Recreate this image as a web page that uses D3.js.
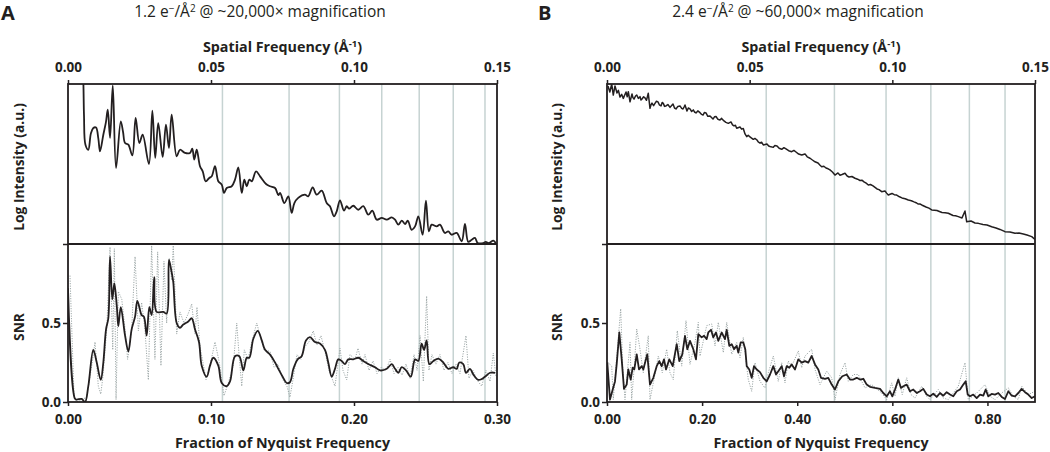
<!DOCTYPE html>
<html><head><meta charset="utf-8">
<script src="https://cdn.jsdelivr.net/npm/d3@7"></script>
<style>
body{margin:0;background:#fff}
svg{display:block}
text{font-family:'Open Sans','Noto Sans',sans-serif;fill:#231f20}
</style>
</head><body>
<svg id="chart" width="1050" height="452"></svg>
<script>
// ---------- tick labels / axes ----------
const spatialTicks = [0, 0.05, 0.10, 0.15];
const nyquistTicksA = [0, 0.10, 0.20, 0.30];
const nyquistTicksB = [0, 0.20, 0.40, 0.60, 0.80];
const snrTicks = [0, 0.5, 1.0];
const panelLetters = ["A", "B"];
const doseText = ["1.2", "2.4"];
const magText = ["~20,000", "~60,000"];

// CTF-zero grid lines, in spatial frequency (1/Å)
const gridA = [0.0540, 0.0773, 0.0949, 0.1097, 0.1228, 0.1347, 0.1458];
const gridB = [0.0558, 0.0797, 0.0978, 0.1135, 0.1270, 0.1395];

// ---------- Panel A data: [fraction of Nyquist, value] ----------
const intensityA = [[0.0100,11.2],[0.0107,10.2],[0.0112,8.0],[0.0122,6.2],[0.0142,5.89],[0.0160,6.9],[0.0177,7.25],[0.0196,7.28],[0.0212,6.6],[0.0224,5.79],[0.0247,6.83],[0.0265,7.6],[0.0278,8.39],[0.0294,6.63],[0.0313,9.92],[0.0336,4.75],[0.0369,7.67],[0.0385,7.0],[0.0399,6.31],[0.0422,6.21],[0.0450,5.54],[0.0473,7.88],[0.0499,6.31],[0.0522,6.83],[0.0566,5.0],[0.0590,8.33],[0.0610,5.38],[0.0631,7.56],[0.0662,5.44],[0.0685,7.46],[0.0706,6.0],[0.0725,8.08],[0.0760,5.48],[0.0783,5.89],[0.0818,5.69],[0.0853,5.69],[0.0869,5.96],[0.0883,5.27],[0.0900,5.89],[0.0923,4.86],[0.0942,4.54],[0.0963,3.92],[0.0988,4.13],[0.1005,4.23],[0.1028,4.86],[0.1051,3.92],[0.1075,3.71],[0.1091,3.19],[0.1110,3.5],[0.1145,3.61],[0.1168,4.02],[0.1191,4.79],[0.1215,3.19],[0.1233,4.02],[0.1250,3.61],[0.1268,4.02],[0.1285,3.92],[0.1315,4.54],[0.1343,4.23],[0.1385,3.75],[0.1413,3.61],[0.1448,3.5],[0.1471,3.06],[0.1483,3.19],[0.1513,2.56],[0.1541,2.98],[0.1564,1.94],[0.1583,2.56],[0.1610,2.88],[0.1657,3.08],[0.1680,2.98],[0.1711,3.54],[0.1739,3.08],[0.1774,3.33],[0.1809,2.56],[0.1832,2.36],[0.1860,1.73],[0.1879,2.04],[0.1902,2.73],[0.1930,2.08],[0.1949,2.36],[0.1965,2.21],[0.1995,2.39],[0.2030,2.14],[0.2065,2.36],[0.2100,1.83],[0.2128,2.08],[0.2159,1.52],[0.2194,1.63],[0.2229,1.52],[0.2264,1.67],[0.2287,1.52],[0.2310,1.21],[0.2334,1.46],[0.2357,1.25],[0.2376,1.46],[0.2403,0.89],[0.2427,1.1],[0.2450,1.73],[0.2480,0.58],[0.2503,2.71],[0.2524,0.79],[0.2543,1.21],[0.2578,1.1],[0.2601,1.21],[0.2636,0.69],[0.2659,0.79],[0.2683,0.58],[0.2718,0.69],[0.2753,0.17],[0.2776,1.25],[0.2799,0.13],[0.2823,0.27],[0.2846,0.38],[0.2865,0.06],[0.2904,0.06],[0.2921,0.13],[0.2944,0.06],[0.2974,0.21],[0.2991,0.06]];

const snrSmoothA = [[0.0,0.72],[0.0049,0.02],[0.0061,0.015],[0.0096,0.02],[0.0119,0.0],[0.0142,0.1],[0.0177,0.33],[0.0201,0.25],[0.0229,0.14],[0.0247,0.25],[0.0266,0.46],[0.0282,0.53],[0.0294,0.92],[0.0310,0.65],[0.0324,0.75],[0.0341,0.61],[0.0352,0.48],[0.0369,0.6],[0.0399,0.42],[0.0422,0.32],[0.0445,0.46],[0.0469,0.54],[0.0485,0.64],[0.0515,0.55],[0.0531,0.54],[0.0550,0.42],[0.0569,0.6],[0.0585,0.55],[0.0603,0.79],[0.0620,0.57],[0.0666,0.57],[0.0690,0.56],[0.0706,0.9],[0.0725,0.82],[0.0736,0.76],[0.0760,0.5],[0.0783,0.47],[0.0806,0.49],[0.0841,0.51],[0.0865,0.53],[0.0888,0.46],[0.0916,0.38],[0.0935,0.23],[0.0970,0.16],[0.0993,0.23],[0.1016,0.28],[0.1051,0.23],[0.1075,0.12],[0.1110,0.1],[0.1133,0.13],[0.1168,0.29],[0.1198,0.29],[0.1226,0.2],[0.1250,0.28],[0.1268,0.28],[0.1296,0.4],[0.1327,0.45],[0.1355,0.39],[0.1378,0.33],[0.1413,0.3],[0.1448,0.25],[0.1471,0.21],[0.1501,0.16],[0.1529,0.12],[0.1552,0.125],[0.1576,0.21],[0.1606,0.27],[0.1634,0.29],[0.1664,0.39],[0.1692,0.41],[0.1727,0.38],[0.1762,0.37],[0.1797,0.33],[0.1820,0.25],[0.1844,0.16],[0.1867,0.21],[0.1890,0.27],[0.1914,0.26],[0.1937,0.24],[0.1960,0.27],[0.1995,0.27],[0.2030,0.28],[0.2065,0.26],[0.2100,0.24],[0.2147,0.22],[0.2182,0.2],[0.2229,0.21],[0.2264,0.24],[0.2287,0.21],[0.2310,0.185],[0.2334,0.22],[0.2364,0.2],[0.2397,0.16],[0.2427,0.27],[0.2450,0.26],[0.2473,0.37],[0.2490,0.33],[0.2508,0.39],[0.2527,0.24],[0.2555,0.26],[0.2590,0.275],[0.2624,0.25],[0.2659,0.21],[0.2694,0.22],[0.2718,0.21],[0.2736,0.25],[0.2764,0.24],[0.2783,0.185],[0.2811,0.21],[0.2834,0.175],[0.2869,0.14],[0.2893,0.145],[0.2916,0.16],[0.2951,0.185],[0.2986,0.185]];

const snrRawA = [[0.0014,0.8],[0.0042,0.04],[0.0061,0.0],[0.0130,0.03],[0.0166,0.23],[0.0189,0.38],[0.0212,0.1],[0.0229,0.05],[0.0243,0.15],[0.0271,0.46],[0.0294,0.98],[0.0313,0.33],[0.0324,0.97],[0.0336,0.015],[0.0352,0.7],[0.0376,0.65],[0.0399,0.46],[0.0417,0.27],[0.0445,0.45],[0.0469,0.92],[0.0492,0.45],[0.0515,0.63],[0.0538,0.46],[0.0562,0.14],[0.0585,0.99],[0.0608,0.27],[0.0627,0.95],[0.0650,0.23],[0.0671,0.89],[0.0690,0.5],[0.0708,0.91],[0.0725,0.77],[0.0736,0.99],[0.0760,0.43],[0.0783,0.57],[0.0811,0.5],[0.0841,0.56],[0.0865,0.62],[0.0888,0.43],[0.0902,0.6],[0.0923,0.35],[0.0944,0.25],[0.0965,0.14],[0.0993,0.23],[0.1028,0.38],[0.1058,0.25],[0.1091,0.04],[0.1121,0.12],[0.1156,0.23],[0.1180,0.5],[0.1196,0.3],[0.1215,0.1],[0.1233,0.33],[0.1259,0.27],[0.1285,0.38],[0.1320,0.5],[0.1343,0.42],[0.1371,0.33],[0.1413,0.32],[0.1441,0.22],[0.1469,0.24],[0.1503,0.14],[0.1531,0.1],[0.1552,0.03],[0.1573,0.14],[0.1601,0.3],[0.1629,0.27],[0.1657,0.35],[0.1685,0.38],[0.1715,0.45],[0.1741,0.36],[0.1769,0.42],[0.1797,0.32],[0.1825,0.2],[0.1867,0.1],[0.1902,0.34],[0.1923,0.2],[0.1949,0.14],[0.1972,0.3],[0.2007,0.27],[0.2028,0.34],[0.2056,0.24],[0.2077,0.3],[0.2105,0.2],[0.2133,0.26],[0.2161,0.18],[0.2189,0.22],[0.2224,0.2],[0.2252,0.27],[0.2280,0.18],[0.2308,0.22],[0.2336,0.17],[0.2364,0.24],[0.2392,0.15],[0.2420,0.3],[0.2441,0.2],[0.2462,0.42],[0.2485,0.13],[0.2508,0.67],[0.2524,0.2],[0.2545,0.3],[0.2573,0.24],[0.2601,0.3],[0.2629,0.2],[0.2657,0.25],[0.2685,0.18],[0.2713,0.24],[0.2741,0.18],[0.2762,0.3],[0.2783,0.42],[0.2804,0.15],[0.2832,0.2],[0.2860,0.14],[0.2893,0.1],[0.2923,0.2],[0.2951,0.13],[0.2974,0.31],[0.2993,0.16]];

// ---------- Panel B data ----------
const intensityB = [[0.002,9.88],[0.006,9.5],[0.0099,10.0],[0.0132,9.31],[0.0168,9.88],[0.021,9.44],[0.024,9.6],[0.0273,9.19],[0.031,9.35],[0.0343,9.1],[0.037,9.3],[0.04,9.5],[0.0425,9.2],[0.0448,9.52],[0.0484,8.89],[0.0526,9.38],[0.0545,9.15],[0.0568,9.06],[0.06,9.25],[0.0625,9.31],[0.066,9.1],[0.0694,9.21],[0.0715,9.0],[0.0736,9.06],[0.077,9.2],[0.0799,9.13],[0.083,8.98],[0.0868,9.42],[0.0904,8.48],[0.0925,8.7],[0.0946,8.81],[0.098,8.65],[0.1009,8.79],[0.104,8.92],[0.1072,8.88],[0.11,8.7],[0.1136,8.63],[0.116,8.85],[0.1184,8.79],[0.121,8.6],[0.1241,8.63],[0.128,8.72],[0.1325,8.54],[0.135,8.62],[0.1388,8.75],[0.142,8.5],[0.1451,8.44],[0.149,8.6],[0.1535,8.63],[0.157,8.48],[0.1598,8.44],[0.162,8.56],[0.164,8.69],[0.1682,8.31],[0.171,8.5],[0.1745,8.44],[0.178,8.28],[0.1815,8.38],[0.184,8.25],[0.1871,8.19],[0.191,8.32],[0.1956,8.21],[0.199,8.1],[0.2019,8.06],[0.205,8.22],[0.2082,8.19],[0.212,7.98],[0.2166,8.0],[0.2229,7.81],[0.226,7.95],[0.2292,7.97],[0.233,7.8],[0.2376,7.75],[0.241,7.85],[0.246,7.69],[0.25,7.6],[0.2551,7.54],[0.2607,7.63],[0.264,7.45],[0.2671,7.38],[0.27,7.42],[0.2727,7.23],[0.2797,7.31],[0.283,7.18],[0.2866,7.22],[0.2902,6.88],[0.2938,6.71],[0.297,6.8],[0.3007,6.69],[0.304,6.62],[0.3076,6.54],[0.311,6.6],[0.3154,6.5],[0.318,6.38],[0.3217,6.31],[0.325,6.36],[0.3287,6.19],[0.3364,6.25],[0.34,6.12],[0.3428,6.09],[0.3497,6.04],[0.353,6.15],[0.3575,6.13],[0.362,5.98],[0.3674,5.92],[0.372,6.02],[0.3764,5.94],[0.382,5.83],[0.3884,5.77],[0.393,5.85],[0.3974,5.75],[0.403,5.62],[0.4094,5.56],[0.4164,5.63],[0.421,5.45],[0.4269,5.36],[0.432,5.25],[0.4374,5.14],[0.4437,5.06],[0.448,4.92],[0.4515,4.83],[0.456,4.86],[0.4605,4.75],[0.465,4.7],[0.4689,4.63],[0.474,4.5],[0.4794,4.31],[0.4857,4.44],[0.49,4.3],[0.4942,4.34],[0.5005,4.42],[0.505,4.25],[0.5089,4.19],[0.515,4.22],[0.5215,4.11],[0.527,4.05],[0.532,3.97],[0.536,3.99],[0.5404,3.88],[0.545,3.8],[0.5495,3.69],[0.554,3.72],[0.5594,3.63],[0.5678,3.44],[0.572,3.4],[0.5776,3.27],[0.5846,3.31],[0.588,3.18],[0.5915,3.06],[0.5993,3.16],[0.604,3.08],[0.6092,3.06],[0.615,2.95],[0.6203,2.88],[0.627,2.83],[0.6336,2.75],[0.64,2.7],[0.6456,2.63],[0.65,2.58],[0.654,2.5],[0.658,2.5],[0.6618,2.44],[0.6708,2.31],[0.677,2.24],[0.6828,2.13],[0.6939,2.09],[0.699,2.03],[0.7044,1.97],[0.711,1.95],[0.7177,1.92],[0.7276,1.78],[0.733,1.76],[0.7387,1.71],[0.7465,1.63],[0.7528,2.06],[0.7564,1.39],[0.7654,1.44],[0.7738,1.31],[0.7808,1.29],[0.7906,1.22],[0.7991,1.19],[0.8089,1.08],[0.818,1.0],[0.8264,0.91],[0.8369,0.77],[0.8474,0.75],[0.858,0.67],[0.8664,0.69],[0.8754,0.63],[0.8832,0.56],[0.8931,0.46],[0.9,0.29]];

const snrSmoothB = [[0.0006,0.25],[0.0063,0.015],[0.0120,0.079],[0.0168,0.13],[0.0204,0.24],[0.0259,0.44],[0.0309,0.27],[0.0357,0.083],[0.0414,0.11],[0.0448,0.206],[0.0498,0.142],[0.0540,0.217],[0.0574,0.206],[0.0625,0.302],[0.0673,0.206],[0.0730,0.227],[0.0763,0.206],[0.0847,0.302],[0.0904,0.11],[0.0974,0.153],[0.1045,0.227],[0.1100,0.259],[0.1150,0.227],[0.1199,0.27],[0.1241,0.206],[0.1310,0.27],[0.1382,0.227],[0.1466,0.366],[0.1520,0.259],[0.1583,0.302],[0.1640,0.419],[0.1689,0.334],[0.1745,0.387],[0.1815,0.334],[0.1871,0.27],[0.1920,0.43],[0.1991,0.409],[0.2040,0.419],[0.2096,0.398],[0.2130,0.44],[0.2187,0.457],[0.2235,0.409],[0.2292,0.44],[0.2340,0.387],[0.2412,0.44],[0.2481,0.398],[0.2517,0.457],[0.2572,0.355],[0.2622,0.366],[0.2671,0.334],[0.2727,0.355],[0.2761,0.313],[0.2811,0.377],[0.2866,0.377],[0.2908,0.334],[0.2938,0.227],[0.2992,0.206],[0.3043,0.153],[0.3091,0.227],[0.3148,0.206],[0.3217,0.189],[0.3287,0.153],[0.3358,0.131],[0.3428,0.174],[0.3497,0.227],[0.3554,0.174],[0.3602,0.195],[0.3674,0.227],[0.3722,0.163],[0.3779,0.227],[0.3834,0.217],[0.3884,0.238],[0.3953,0.206],[0.4023,0.27],[0.4094,0.249],[0.4164,0.259],[0.4233,0.249],[0.4304,0.291],[0.4374,0.238],[0.4443,0.206],[0.4500,0.153],[0.4584,0.147],[0.4653,0.153],[0.4725,0.11],[0.4794,0.079],[0.4864,0.131],[0.4948,0.163],[0.5040,0.174],[0.5110,0.142],[0.5179,0.142],[0.5251,0.153],[0.5320,0.142],[0.5390,0.147],[0.5461,0.11],[0.5530,0.096],[0.5636,0.089],[0.5741,0.083],[0.5810,0.057],[0.5882,0.036],[0.5951,0.068],[0.6000,0.036],[0.6056,0.079],[0.6125,0.142],[0.6182,0.089],[0.6231,0.1],[0.6302,0.11],[0.6371,0.068],[0.6441,0.079],[0.6512,0.057],[0.6582,0.068],[0.6651,0.083],[0.6723,0.047],[0.6792,0.036],[0.6861,0.053],[0.6933,0.032],[0.7002,0.057],[0.7072,0.04],[0.7143,0.062],[0.7213,0.047],[0.7282,0.036],[0.7354,0.068],[0.7423,0.079],[0.7492,0.11],[0.7543,0.131],[0.7585,0.047],[0.7633,0.036],[0.7703,0.047],[0.7774,0.025],[0.7844,0.047],[0.7913,0.04],[0.7963,0.079],[0.8018,0.036],[0.8089,0.051],[0.8159,0.047],[0.8228,0.057],[0.8300,0.032],[0.8369,0.019],[0.8439,0.068],[0.8510,0.04],[0.8580,0.036],[0.8649,0.057],[0.8720,0.083],[0.8790,0.062],[0.8859,0.047],[0.8931,0.025],[0.9000,0.036]];

const snrRawB = [[0.0027,0.249],[0.0099,0.227],[0.0132,0.015],[0.0189,0.227],[0.0288,0.59],[0.0330,0.227],[0.0378,0.015],[0.0484,0.377],[0.0519,0.015],[0.0574,0.227],[0.0625,0.462],[0.0694,0.334],[0.0763,0.185],[0.0868,0.419],[0.0904,0.015],[0.0988,0.142],[0.1079,0.291],[0.1163,0.185],[0.1255,0.334],[0.1325,0.185],[0.1394,0.142],[0.1478,0.451],[0.1571,0.227],[0.1661,0.515],[0.1745,0.238],[0.1850,0.377],[0.1920,0.504],[0.1956,0.291],[0.2096,0.483],[0.2202,0.494],[0.2271,0.355],[0.2340,0.504],[0.2446,0.313],[0.2517,0.504],[0.2622,0.302],[0.2727,0.377],[0.2797,0.281],[0.2866,0.409],[0.2971,0.142],[0.3043,0.068],[0.3112,0.249],[0.3217,0.131],[0.3322,0.089],[0.3392,0.185],[0.3497,0.291],[0.3602,0.131],[0.3674,0.249],[0.3743,0.121],[0.3812,0.259],[0.3884,0.227],[0.4023,0.323],[0.4094,0.217],[0.4164,0.291],[0.4304,0.334],[0.4374,0.206],[0.4479,0.11],[0.4620,0.196],[0.4725,0.153],[0.4794,0.015],[0.4899,0.174],[0.5005,0.249],[0.5074,0.131],[0.5179,0.174],[0.5284,0.174],[0.5425,0.089],[0.5566,0.11],[0.5776,0.057],[0.5882,0.015],[0.5987,0.121],[0.6056,0.036],[0.6125,0.153],[0.6209,0.047],[0.6302,0.153],[0.6393,0.047],[0.6477,0.025],[0.6618,0.1],[0.6723,0.036],[0.6792,0.015],[0.6967,0.079],[0.7072,0.025],[0.7177,0.015],[0.7282,0.057],[0.7387,0.1],[0.7528,0.249],[0.7597,0.015],[0.7774,0.057],[0.7949,0.11],[0.8054,0.036],[0.8159,0.015],[0.8300,0.057],[0.8439,0.089],[0.8544,0.036],[0.8649,0.015],[0.8720,0.1],[0.8859,0.047],[0.9000,0.068]];

// ---------- build panels ----------
const panelDefs = [
  {letter: panelLetters[0], dose: doseText[0], mag: magText[0], left: 68, right: 497,
   nyqMax: 0.30, nyqTicks: nyquistTicksA, grid: gridA, intensity: intensityA,
   smooth: snrSmoothA, raw: snrRawA, curveTop: d3.curveCatmullRom.alpha(0.5),
   curveSnr: d3.curveCatmullRom.alpha(0.5), titleX: 260, letterX: 1, yLabelX: 23.5},
  {letter: panelLetters[1], dose: doseText[1], mag: magText[1], left: 607, right: 1035,
   nyqMax: 0.90, nyqTicks: nyquistTicksB, grid: gridB, intensity: intensityB,
   smooth: snrSmoothB, raw: snrRawB, curveTop: d3.curveLinear,
   curveSnr: d3.curveLinear, titleX: 798, letterX: 538, yLabelX: 562}
];

const top0 = 84, mid = 244, bot = 402;
const svg = d3.select("#chart");
const ink = "#231f20";
const fam = "'Open Sans','Noto Sans',sans-serif";

panelDefs.forEach((p, i) => {
  const g = svg.append("g");
  const xN = d3.scaleLinear().domain([0, p.nyqMax]).range([p.left, p.right]);
  const xS = d3.scaleLinear().domain([0, 0.15]).range([p.left, p.right]);
  const yI = d3.scaleLinear().domain([0, 10]).range([mid, top0]);
  const yS = d3.scaleLinear().domain([0, 1]).range([bot, mid]);

  const clipId = "clip" + i;
  svg.append("clipPath").attr("id", clipId).append("rect")
    .attr("x", p.left).attr("y", top0).attr("width", p.right - p.left).attr("height", bot - top0);

  // grid lines
  g.selectAll("line.grid").data(p.grid).join("line")
    .attr("x1", d => xS(d)).attr("x2", d => xS(d))
    .attr("y1", top0).attr("y2", bot)
    .attr("stroke", "#c6d3d2").attr("stroke-width", 1.5);

  const plot = g.append("g").attr("clip-path", `url(#${clipId})`);

  // raw SNR (dotted)
  plot.append("path").datum(p.raw)
    .attr("d", d3.line().x(d => xN(d[0])).y(d => yS(d[1])))
    .attr("fill", "none").attr("stroke", "#98a3a3").attr("stroke-width", 1.0)
    .attr("stroke-dasharray", "1.1,1.4");

  // smoothed SNR
  plot.append("path").datum(p.smooth)
    .attr("d", d3.line().x(d => xN(d[0])).y(d => yS(d[1])).curve(p.curveSnr))
    .attr("fill", "none").attr("stroke", ink).attr("stroke-width", 1.8)
    .attr("stroke-linejoin", "round");

  // log intensity (clipped to top panel)
  const clipTop = "clipTop" + i;
  svg.append("clipPath").attr("id", clipTop).append("rect")
    .attr("x", p.left).attr("y", top0).attr("width", p.right - p.left).attr("height", mid - top0);
  g.append("path").datum(p.intensity)
    .attr("clip-path", `url(#${clipTop})`)
    .attr("d", d3.line().x(d => xN(d[0])).y(d => yI(d[1])).curve(p.curveTop))
    .attr("fill", "none").attr("stroke", ink).attr("stroke-width", p.letter === "A" ? 1.8 : 1.5)
    .attr("stroke-linejoin", "round");

  // frame
  g.append("rect").attr("x", p.left).attr("y", top0)
    .attr("width", p.right - p.left).attr("height", bot - top0)
    .attr("fill", "none").attr("stroke", ink).attr("stroke-width", 1.8);
  g.append("line").attr("x1", p.left).attr("x2", p.right).attr("y1", mid).attr("y2", mid)
    .attr("stroke", ink).attr("stroke-width", 1.8);

  // axes
  const axT = g.append("g").attr("transform", `translate(0,${top0})`)
    .call(d3.axisTop(xS).tickValues(spatialTicks).tickFormat(d3.format(".2f")).tickSize(4).tickPadding(8));
  const axB = g.append("g").attr("transform", `translate(0,${bot})`)
    .call(d3.axisBottom(xN).tickValues(p.nyqTicks).tickFormat(d3.format(".2f")).tickSize(4).tickPadding(8));
  const axL = g.append("g").attr("transform", `translate(${p.left},0)`)
    .call(d3.axisLeft(yS).tickValues(snrTicks).tickFormat(d => d === 1 ? "" : d3.format(".1f")(d)).tickSize(5).tickPadding(2));
  [axT, axB, axL].forEach(a => {
    a.select(".domain").remove();
    a.selectAll(".tick line").attr("stroke", ink).attr("stroke-width", 1.5);
    a.selectAll(".tick text").attr("font-size", 13.5).attr("font-weight", 700)
      .attr("fill", ink).attr("font-family", fam);
  });

  // axis titles
  const cx = (p.left + p.right) / 2;
  const tt = g.append("text").attr("x", cx).attr("y", 51.5).attr("text-anchor", "middle")
    .attr("font-size", 14.3).attr("font-weight", 700);
  tt.append("tspan").text("Spatial Frequency (Å");
  tt.append("tspan").attr("dy", -5).attr("font-size", 9.5).text("-1");
  tt.append("tspan").attr("dy", 5).text(")");

  g.append("text").attr("x", cx).attr("y", 447.5).attr("text-anchor", "middle")
    .attr("font-size", 14.3).attr("font-weight", 700).text("Fraction of Nyquist Frequency");

  g.append("text").attr("transform", `translate(${p.yLabelX},${(top0 + mid) / 2 + 3}) rotate(-90)`)
    .attr("text-anchor", "middle").attr("font-size", 13.8).attr("font-weight", 700)
    .text("Log Intensity (a.u.)");
  g.append("text").attr("transform", `translate(${p.yLabelX},${(mid + bot) / 2 + 4}) rotate(-90)`)
    .attr("text-anchor", "middle").attr("font-size", 13.8).attr("font-weight", 700)
    .text("SNR");

  // panel letter & title
  g.append("text").attr("x", p.letterX).attr("y", 19.5).attr("font-size", 20).attr("font-weight", 700)
    .attr("font-family", "'Liberation Sans',Arial,sans-serif").text(p.letter);
  const ti = g.append("text").attr("x", p.titleX).attr("y", 17).attr("text-anchor", "middle").attr("font-size", 15.5);
  ti.append("tspan").text(p.dose + " e");
  ti.append("tspan").attr("dy", -5.5).attr("font-size", 10).text("−");
  ti.append("tspan").attr("dy", 5.5).text("/Å");
  ti.append("tspan").attr("dy", -5.5).attr("font-size", 10).text("2");
  ti.append("tspan").attr("dy", 5.5).text(" @ " + p.mag + "× magnification");
});
</script>
</body></html>
